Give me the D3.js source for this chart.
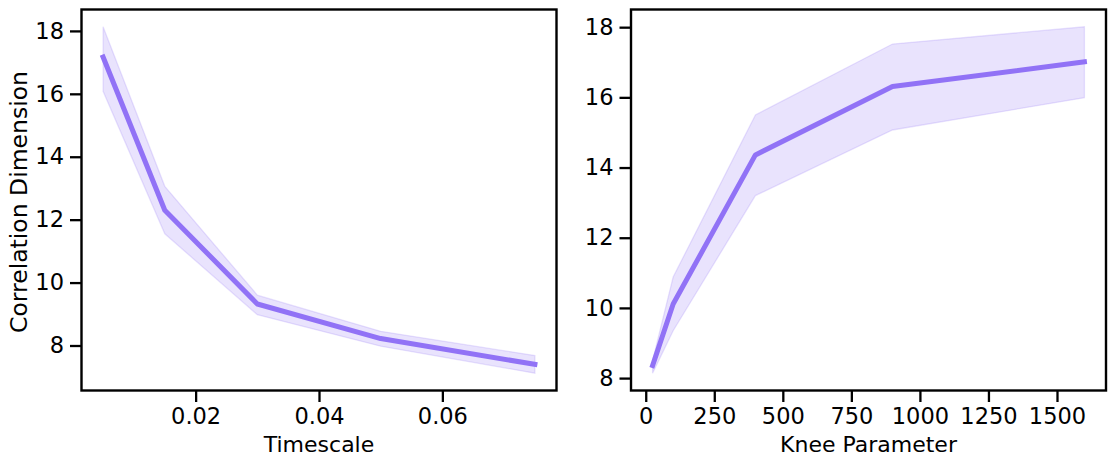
<!DOCTYPE html>
<html>
<head>
<meta charset="utf-8">
<script src="https://cdn.jsdelivr.net/npm/d3@7"></script>
<style>
  html, body { margin: 0; padding: 0; background: #fff; }
  svg { display: block; }
  text { font-family: "DejaVu Sans", sans-serif; fill: #000; }
</style>
</head>
<body>
<svg id="chart" width="1116" height="465"></svg>
<script>
// ---- data ----
const timescaleX = [0.005, 0.015, 0.03, 0.05, 0.075];
const timescaleMean = [17.17, 12.30, 9.32, 8.22, 7.40];
const timescaleLow = [16.08, 11.55, 8.98, 7.98, 7.12];
const timescaleHigh = [18.13, 13.06, 9.60, 8.45, 7.68];
const timescaleTicks = [0.02, 0.04, 0.06];
const timescaleTickLabels = ["0.02", "0.04", "0.06"];

const kneeX = [25, 100, 400, 900, 1600];
const kneeMean = [8.36, 10.11, 14.36, 16.31, 17.01];
const kneeLow = [8.14, 9.35, 13.20, 15.07, 15.99];
const kneeHigh = [8.50, 10.88, 15.50, 17.52, 18.01];
const kneeTicks = [0, 250, 500, 750, 1000, 1250, 1500];
const kneeTickLabels = ["0", "250", "500", "750", "1000", "1250", "1500"];

const yTicks = [8, 10, 12, 14, 16, 18];
const yTickLabels = ["8", "10", "12", "14", "16", "18"];

const xLabels = ["Timescale", "Knee Parameter"];
const yLabel = "Correlation Dimension";

// ---- style ----
const lineColor = "#9172f6";
const panels = [
  { left: 81.5, right: 556.5, xs: timescaleX, mean: timescaleMean, lo: timescaleLow, hi: timescaleHigh,
    xt: timescaleTicks, xtl: timescaleTickLabels, xl: xLabels[0], yl: yLabel },
  { left: 631, right: 1106, xs: kneeX, mean: kneeMean, lo: kneeLow, hi: kneeHigh,
    xt: kneeTicks, xtl: kneeTickLabels, xl: xLabels[1], yl: null }
];
const plotTop = 9.5, plotBottom = 390.5;
const tickLen = 11.5, tickPad = 6;
const tickFont = 22.5, labelFont = 22, yLabelFont = 23.5;

const svg = d3.select("#chart");

function padded(minV, maxV) {
  const m = (maxV - minV) * 0.05;
  return [minV - m, maxV + m];
}

panels.forEach(p => {
  const x = d3.scaleLinear().domain(padded(d3.min(p.xs), d3.max(p.xs))).range([p.left, p.right]);
  const y = d3.scaleLinear().domain(padded(d3.min(p.lo), d3.max(p.hi))).range([plotBottom, plotTop]);
  const g = svg.append("g");
  const idx = d3.range(p.xs.length);

  // band
  const area = d3.area().x(i => x(p.xs[i])).y0(i => y(p.lo[i])).y1(i => y(p.hi[i]));
  g.append("path").attr("d", area(idx))
    .attr("fill", lineColor).attr("fill-opacity", 0.2)
    .attr("stroke", lineColor).attr("stroke-opacity", 0.2).attr("stroke-width", 1.3);

  // line
  const line = d3.line().x(i => x(p.xs[i])).y(i => y(p.mean[i]));
  g.append("path").attr("d", line(idx))
    .attr("fill", "none").attr("stroke", lineColor).attr("stroke-width", 5)
    .attr("stroke-linecap", "square").attr("stroke-linejoin", "round");

  // axes
  const xAxis = d3.axisBottom(x).tickValues(p.xt).tickFormat((d, i) => p.xtl[i])
    .tickSizeInner(tickLen).tickSizeOuter(0).tickPadding(tickPad);
  const gx = g.append("g").attr("transform", `translate(0,${plotBottom})`).call(xAxis);
  const yAxis = d3.axisLeft(y).tickValues(yTicks).tickFormat((d, i) => yTickLabels[i])
    .tickSizeInner(tickLen).tickSizeOuter(0).tickPadding(tickPad);
  const gy = g.append("g").attr("transform", `translate(${p.left},0)`).call(yAxis);
  [gx, gy].forEach(a => {
    a.select(".domain").remove();
    a.selectAll(".tick line").attr("stroke", "#000").attr("stroke-width", 2.3);
    a.selectAll(".tick text").attr("font-size", tickFont).attr("font-family", "DejaVu Sans").attr("fill", "#000");
  });

  // frame
  g.append("rect").attr("x", p.left).attr("y", plotTop)
    .attr("width", p.right - p.left).attr("height", plotBottom - plotTop)
    .attr("fill", "none").attr("stroke", "#000").attr("stroke-width", 2.4);

  // labels
  g.append("text").attr("x", (p.left + p.right) / 2).attr("y", 452)
    .attr("text-anchor", "middle").attr("font-size", labelFont).text(p.xl);
  if (p.yl) {
    g.append("text").attr("transform", `translate(27,${(plotTop + plotBottom) / 2 + 2}) rotate(-90)`)
      .attr("text-anchor", "middle").attr("font-size", yLabelFont).text(p.yl);
  }
});
</script>
</body>
</html>
